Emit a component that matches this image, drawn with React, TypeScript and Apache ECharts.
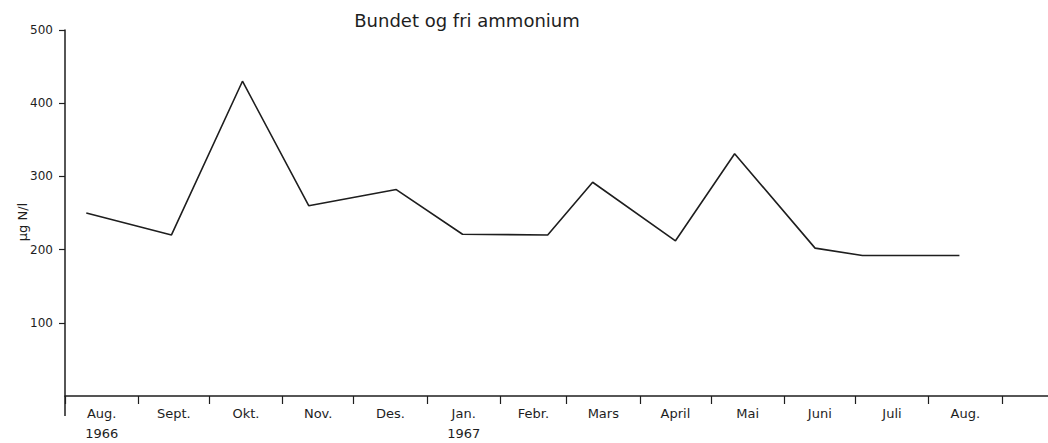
import React, { useEffect, useRef } from "react";
import * as echarts from "echarts";

// Month boundaries (ticks) of the x axis
const MONTH_STARTS = [
  "1966-08-01", "1966-09-01", "1966-10-01", "1966-11-01", "1966-12-01",
  "1967-01-01", "1967-02-01", "1967-03-01", "1967-04-01", "1967-05-01",
  "1967-06-01", "1967-07-01", "1967-08-01", "1967-09-01",
];
// Month labels (one per month interval)
const MONTH_LABELS = [
  "Aug.\n1966", "Sept.", "Okt.", "Nov.", "Des.", "Jan.\n1967", "Febr.",
  "Mars", "April", "Mai", "Juni", "Juli", "Aug.",
];
// Sampling dates and values (µg N/l)
const SAMPLE_DATES = [
  "1966-08-10", "1966-09-15", "1966-10-15", "1966-11-12", "1966-12-19",
  "1967-01-16", "1967-02-21", "1967-03-12", "1967-04-16", "1967-05-11",
  "1967-06-14", "1967-07-04", "1967-08-14",
];
const VALUES = [250, 220, 430, 260, 282, 221, 220, 292, 212, 331, 202, 192, 192];
const Y_TICKS = [100, 200, 300, 400, 500];

const TITLE = "Bundet og fri ammonium";
const Y_NAME = "µg N/l";

function dayOf(s: string): number {
  const [y, m, d] = s.split("-").map(Number);
  return (Date.UTC(y, m - 1, d) - Date.UTC(1966, 7, 1)) / 86400000;
}

export default function App() {
  const ref = useRef<HTMLDivElement>(null);
  useEffect(() => {
    if (!ref.current) return;
    const chart = echarts.init(ref.current, undefined, { renderer: "svg" });
    const tickDays = MONTH_STARTS.map(dayOf);
    const labelDays = MONTH_LABELS.map((_, i) => (tickDays[i] + tickDays[i + 1]) / 2);
    const lastTick = tickDays[tickDays.length - 1];
    const font = "DejaVu Sans";
    const ink = "#1e1e1e";
    chart.setOption({
      animation: false,
      backgroundColor: "#ffffff",
      grid: { left: 65, right: 0, top: 30, bottom: 47, containLabel: false, outerBoundsMode: "none" },
      xAxis: {
        type: "value",
        min: 0,
        max: (lastTick * 983) / 937,
        splitLine: { show: false },
        axisLine: { show: true, lineStyle: { color: ink, width: 1.5 } },
        axisTick: {
          show: true,
          customValues: tickDays,
          length: 8,
          lineStyle: { color: ink, width: 1.2 },
        },
        axisLabel: {
          show: true,
          customValues: labelDays,
          margin: 7,
          fontFamily: font,
          fontSize: 13,
          color: ink,
          lineHeight: 20,
          formatter: (v: number) => {
            const i = labelDays.findIndex((d) => Math.abs(d - v) < 0.01);
            return i >= 0 ? MONTH_LABELS[i] : "";
          },
        },
      },
      yAxis: {
        type: "value",
        min: 0,
        max: 500,
        interval: 100,
        splitLine: { show: false },
        axisLine: { show: true, lineStyle: { color: ink, width: 1.5 } },
        axisTick: {
          show: true,
          customValues: Y_TICKS,
          length: 6,
          lineStyle: { color: ink, width: 1.2 },
        },
        axisLabel: {
          customValues: Y_TICKS,
          margin: 12,
          fontFamily: font,
          fontSize: 12,
          color: ink,
        },
      },
      graphic: [
        {
          type: "text",
          x: 467,
          y: 20,
          style: {
            text: TITLE,
            font: `18px "${font}"`,
            fill: ink,
            align: "center",
            verticalAlign: "middle",
          },
        },
        {
          type: "text",
          x: 22,
          y: 222,
          rotation: Math.PI / 2,
          style: {
            text: Y_NAME,
            font: `13px "${font}"`,
            fill: ink,
            align: "center",
            verticalAlign: "middle",
          },
        },
        {
          type: "line",
          shape: { x1: 65, y1: 396, x2: 65, y2: 416 },
          style: { stroke: ink, lineWidth: 1.5 },
        },
      ],
      series: [
        {
          type: "line",
          data: SAMPLE_DATES.map((d, i) => [dayOf(d), VALUES[i]]),
          symbol: "none",
          lineStyle: { color: ink, width: 1.6 },
        },
      ],
    });
    return () => chart.dispose();
  }, []);
  return <div ref={ref} style={{ width: 1048, height: 443, position: "absolute", left: 0, top: 0 }} />;
}
